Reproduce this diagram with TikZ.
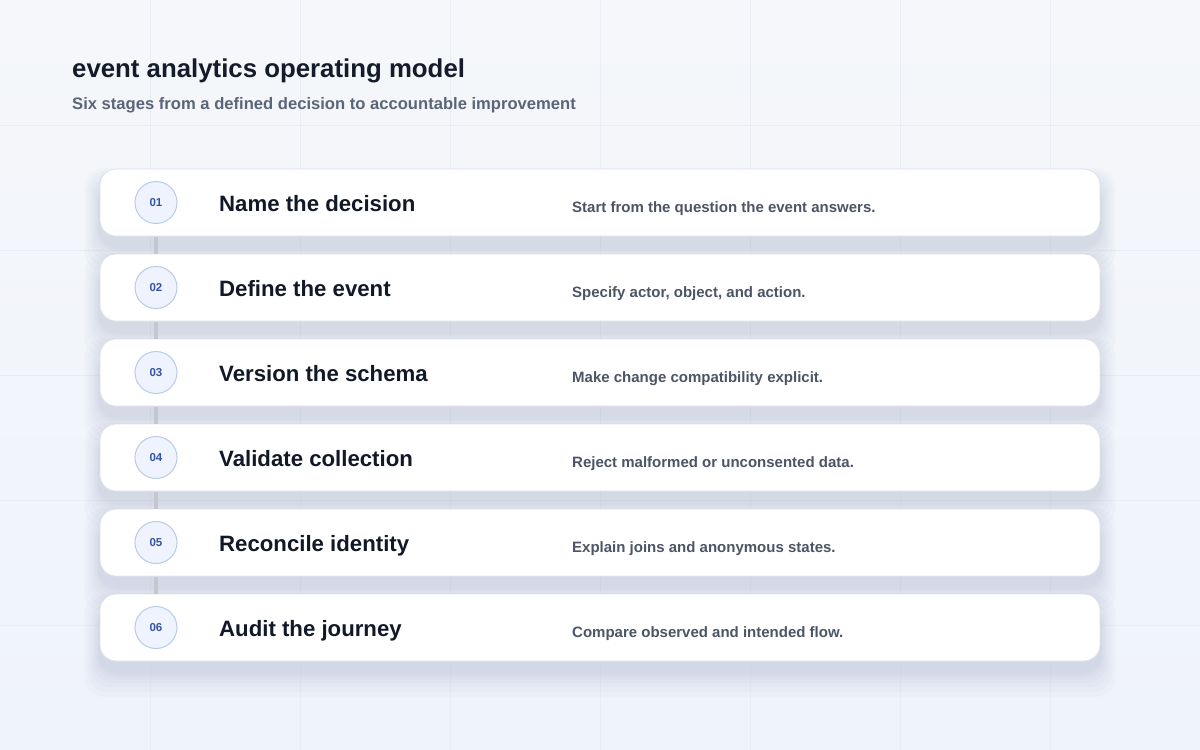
\documentclass[tikz,border=0pt]{standalone}
\usepackage{fontspec}
\setmainfont{Liberation Sans}
\usetikzlibrary{calc}
\definecolor{bgA}{HTML}{F5F7FA}
\definecolor{bgB}{HTML}{EFF3FB}
\definecolor{gridc}{HTML}{EAEEF4}
\definecolor{titlec}{HTML}{141B2B}
\definecolor{subc}{HTML}{5B6578}
\definecolor{cardtxt}{HTML}{111827}
\definecolor{desctxt}{HTML}{4B5565}
\definecolor{numfill}{HTML}{EEF3FD}
\definecolor{numdraw}{HTML}{B9CBEA}
\definecolor{numtxt}{HTML}{3653A4}
\definecolor{linkc}{HTML}{C3C7D0}
\definecolor{shadowc}{HTML}{6E7FA6}
\definecolor{cardedge}{HTML}{DCE1EA}
\tikzset{
  x=1pt,y=-1pt,
  cardbox/.style={draw=cardedge,line width=0.8pt,fill=white,rounded corners=16pt},
  numcircle/.style={circle,draw=numdraw,line width=1pt,fill=numfill,minimum size=42pt,inner sep=0pt,
     font=\fontsize{11.5}{12}\selectfont\bfseries,text=numtxt},
  cardtitle/.style={anchor=base west,inner sep=0pt,font=\fontsize{22.2}{22}\selectfont\bfseries,text=cardtxt},
  carddesc/.style={anchor=base west,inner sep=0pt,font=\fontsize{15}{15}\selectfont\bfseries,text=desctxt},
  linkbar/.style={draw=linkc,line width=4pt}
}
\begin{document}
\begin{tikzpicture}
\useasboundingbox (0,0) rectangle (1200,750);
\shade[top color=bgA,bottom color=bgB] (0,0) rectangle (1200,750);
% grid
\foreach \gx in {150,300,...,1050} \draw[gridc,line width=0.7pt] (\gx,0) -- (\gx,750);
\foreach \gy in {125,250,...,625} \draw[gridc,line width=0.7pt] (0,\gy) -- (1200,\gy);
% title
\node[anchor=base west,inner sep=0pt,font=\fontsize{25.8}{26}\selectfont\bfseries,text=titlec] (title) at (72,77) {event analytics operating model};
\node[anchor=base west,inner sep=0pt,font=\fontsize{16.6}{17}\selectfont\bfseries,text=subc] (subtitle) at (72,109) {Six stages from a defined decision to accountable improvement};
% shadows
\foreach \i in {0,...,5} {
  \pgfmathsetmacro{\ty}{169+85*\i}
  \foreach \s in {26,21,16,12,8,5,3} {
    \fill[shadowc,opacity=0.03,rounded corners=20pt] (100-0.6*\s,\ty-0.5*\s+12) rectangle (1100+0.6*\s,\ty+67+\s+10);
  }
}
% cards
\foreach \i/\num/\ttl/\desc in {
  0/01/Name the decision/Start from the question the event answers.,
  1/02/Define the event/{Specify actor, object, and action.},
  2/03/Version the schema/Make change compatibility explicit.,
  3/04/Validate collection/Reject malformed or unconsented data.,
  4/05/Reconcile identity/Explain joins and anonymous states.,
  5/06/Audit the journey/Compare observed and intended flow.} {
  \pgfmathsetmacro{\ty}{169+85*\i}
  \draw[cardbox] (100,\ty) rectangle (1100,\ty+67);
  \node[numcircle] (n\num) at (156,\ty+33.5) {\num};
  \node[cardtitle] (t\num) at (219,\ty+42) {\ttl};
  \node[carddesc] (d\num) at (572,\ty+43) {\desc};
}
% connectors
\foreach \a/\b in {01/02,02/03,03/04,04/05,05/06} {
  \draw[linkbar] ($(n\a)+(0,34)$) -- ($(n\b)+(0,-34)$);
}
\end{tikzpicture}
\end{document}
